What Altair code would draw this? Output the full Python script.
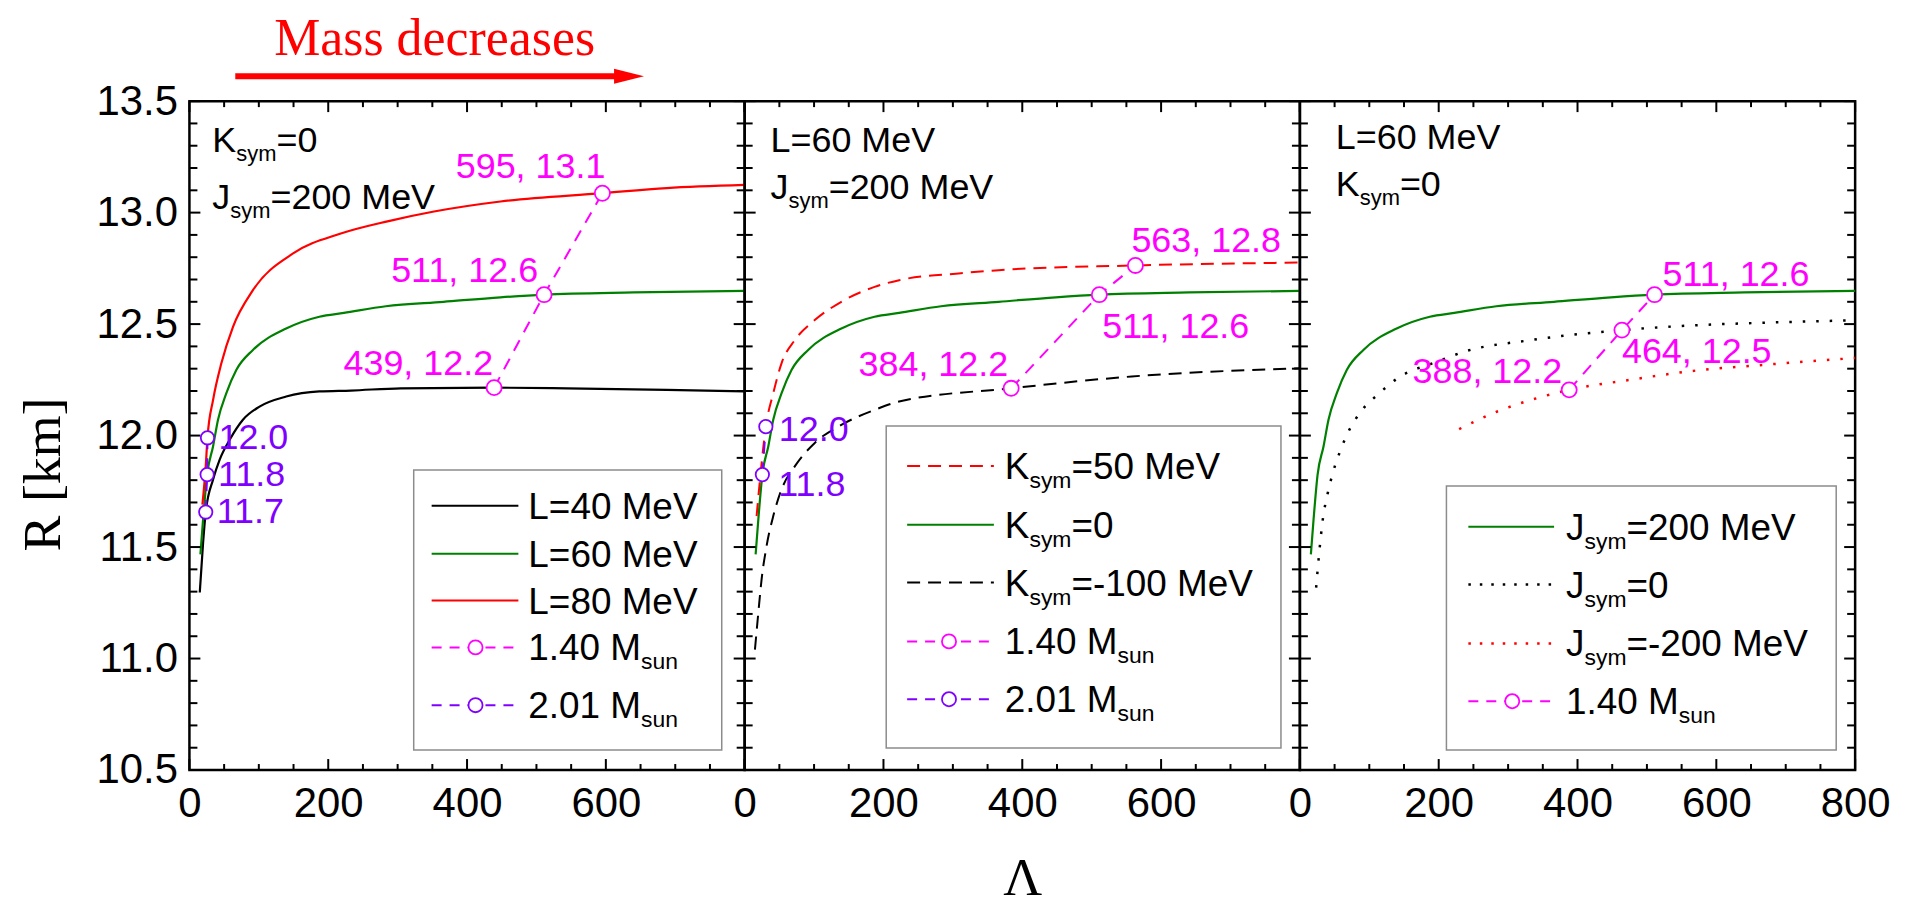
import altair as alt
import pandas as pd

# ---------------- data (Lambda, R[km]) ----------------
# Panel 1 : K_sym = 0, J_sym = 200 MeV, varying L
L40_lam = [14.9, 19.7, 23.5, 34.1, 43.6, 58.0, 77.1, 101.0, 139.4, 187.2, 232.6, 304.6, 439.0, 543.6, 687.6, 800.0]
L40_r = [11.296, 11.52, 11.657, 11.803, 11.892, 11.981, 12.071, 12.13, 12.175, 12.198, 12.202, 12.212, 12.215, 12.212, 12.205, 12.198]
L60_lam = [15.8, 19.7, 25.5, 34.1, 41.2, 53.2, 67.5, 91.5, 139.4, 187.2, 222.6, 283.0, 366.0, 448.2, 511.0, 640.0, 800.0]
L60_r = [11.467, 11.624, 11.825, 11.952, 12.071, 12.19, 12.294, 12.384, 12.48, 12.533, 12.55, 12.58, 12.60, 12.62, 12.632, 12.642, 12.649]
L80_lam = [18.7, 23.5, 26.0, 34.1, 46.0, 62.8, 91.5, 150.0, 217.0, 287.0, 352.4, 448.2, 595.0, 687.6, 800.0]
L80_r = [11.69, 11.862, 11.99, 12.16, 12.324, 12.488, 12.652, 12.818, 12.905, 12.962, 13.005, 13.05, 13.087, 13.11, 13.124]

# Panel 2 : L = 60 MeV, J_sym = 200 MeV, varying K_sym
K50_lam = [17.2, 22.0, 30.5, 41.2, 53.1, 72.2, 101.0, 139.3, 187.2, 222.6, 311.7, 366.0, 563.0, 800.0]
K50_r = [11.639, 11.80, 12.04, 12.19, 12.324, 12.428, 12.518, 12.60, 12.667, 12.697, 12.728, 12.742, 12.763, 12.776]
Km100_lam = [14.8, 19.7, 24.4, 31.6, 41.2, 53.1, 72.2, 101.0, 139.3, 187.2, 222.6, 384.0, 557.7, 800.0]
Km100_r = [11.04, 11.206, 11.355, 11.505, 11.639, 11.758, 11.862, 11.967, 12.048, 12.115, 12.153, 12.212, 12.265, 12.302]

# Panel 3 : L = 60 MeV, K_sym = 0, varying J_sym
J0_lam = [23.4, 28.3, 33.0, 40.2, 47.4, 57.0, 68.9, 88.0, 114.5, 140.8, 198.2, 236.6, 332.2, 464.0, 571.7, 667.4, 800.0]
J0_r = [11.318, 11.49, 11.624, 11.743, 11.832, 11.922, 12.011, 12.108, 12.19, 12.257, 12.332, 12.376, 12.428, 12.473, 12.495, 12.506, 12.517]
Jm200_lam = [229.4, 284.4, 341.8, 388.0, 475.8, 571.7, 667.4, 800.0]
Jm200_r = [12.029, 12.108, 12.168, 12.205, 12.25, 12.292, 12.317, 12.348]

# 1.40 M_sun points
P1_14_lam = [439, 511, 595]
P1_14_r = [12.215, 12.632, 13.087]
P1_14_lab = ["439, 12.2", "511, 12.6", "595, 13.1"]
P2_14_lam = [384, 511, 563]
P2_14_r = [12.212, 12.632, 12.763]
P2_14_lab = ["384, 12.2", "511, 12.6", "563, 12.8"]
P3_14_lam = [388, 464, 511]
P3_14_r = [12.205, 12.473, 12.632]
P3_14_lab = ["388, 12.2", "464, 12.5", "511, 12.6"]

# 2.01 M_sun points
P1_201_lam = [26.0, 25.5, 23.5]
P1_201_r = [11.99, 11.825, 11.657]
P1_201_lab = ["12.0", "11.8", "11.7"]
P2_201_lam = [30.5, 25.5]
P2_201_r = [12.04, 11.825]
P2_201_lab = ["12.0", "11.8"]

# axis ticks
X_LABELS_12 = [0, 200, 400, 600]
X_LABELS_3 = [0, 200, 400, 600, 800]
Y_LABELS = [10.5, 11.0, 11.5, 12.0, 12.5, 13.0, 13.5]
X_MAJOR = [0, 200, 400, 600, 800]
X_MINOR = [v for v in range(50, 800, 50) if v % 200 != 0]
Y_MAJOR = Y_LABELS
Y_MINOR = [round(10.5 + 0.1 * i, 1) for i in range(1, 30) if i % 5 != 0]

# ---------------- styling ----------------
W, H = 557, 671
LAM_DOMAIN = [0, 800]
R_DOMAIN = [10.5, 13.5]
SANS = "Liberation Sans"
SERIF = "Liberation Serif"
RED = "#ff0000"
GREEN = "#008000"
BLACK = "#000000"
MAGENTA = "#ff00ff"
PURPLE = "#8000ff"

ARIAL = {' ': 278, '-': 333, '.': 278, ',': 278, '=': 584, 'J': 500, 'K': 667, 'L': 556,
         'M': 833, 'V': 667, 'e': 556, 'm': 833, 'n': 556, 's': 500, 'u': 556, 'y': 500}

AX = {"x": None, "y": None}   # axes of the panel currently being built


def tw(s, size):
    return sum(ARIAL.get(c, 556) for c in s) * size / 1000.0


def xenc(field):
    return alt.X(f"{field}:Q", scale=alt.Scale(domain=LAM_DOMAIN, nice=False, zero=False), axis=AX["x"])


def yenc(field):
    return alt.Y(f"{field}:Q", scale=alt.Scale(domain=R_DOMAIN, nice=False, zero=False), axis=AX["y"])


ONE = pd.DataFrame({"a": [0]})


def curve(lam, r, color, dash=None, width=2.2):
    df = pd.DataFrame({"lam": lam, "r": r})
    kw = dict(color=color, strokeWidth=width, interpolate="monotone")
    if dash:
        kw["strokeDash"] = dash
    return alt.Chart(df).mark_line(**kw).encode(x=xenc("lam"), y=yenc("r"))


def tick_layers():
    layers = []
    for vals, ln in ((X_MAJOR, 11), (X_MINOR, 6)):
        base = alt.Chart(pd.DataFrame({"lam": vals})).mark_rule(color="black", strokeWidth=2)
        layers.append(base.encode(x=xenc("lam"), y=alt.value(H), y2=alt.value(H - ln)))
        layers.append(base.encode(x=xenc("lam"), y=alt.value(0), y2=alt.value(ln)))
    for vals, ln in ((Y_MAJOR, 11), (Y_MINOR, 8)):
        base = alt.Chart(pd.DataFrame({"r": vals})).mark_rule(color="black", strokeWidth=2)
        layers.append(base.encode(y=yenc("r"), x=alt.value(0), x2=alt.value(ln)))
        layers.append(base.encode(y=yenc("r"), x=alt.value(W - ln), x2=alt.value(W)))
    return layers


def mass_points(lam, r, labels, color, size, offsets, fsize=36):
    df = pd.DataFrame({"lam": lam, "r": r, "t": labels})
    layers = [
        alt.Chart(df).mark_line(color=color, strokeDash=[12, 9], strokeWidth=2)
        .encode(x=xenc("lam"), y=yenc("r"), order="r:Q"),
        alt.Chart(df).mark_circle(fill="white", stroke=color, fillOpacity=1, strokeOpacity=1,
                                  strokeWidth=1.8, size=size)
        .encode(x=xenc("lam"), y=yenc("r")),
    ]
    for i, (align, dx, dy, base) in enumerate(offsets):
        layers.append(
            alt.Chart(df.iloc[[i]]).mark_text(align=align, baseline=base, dx=dx, dy=dy, font=SANS,
                                              fontSize=fsize, color=color)
            .encode(x=xenc("lam"), y=yenc("r"), text="t:N")
        )
    return layers


def rich(parts, x, y, size=36, subsize=22, color="black", subdy=9):
    layers = []
    cx = x
    for txt, kind in parts:
        fs = size if kind == "n" else subsize
        yy = y if kind == "n" else y + subdy
        layers.append(
            alt.Chart(pd.DataFrame({"t": [txt]}))
            .mark_text(align="left", baseline="alphabetic", font=SANS, fontSize=fs, color=color)
            .encode(x=alt.value(cx), y=alt.value(yy), text="t:N")
        )
        cx += tw(txt, fs)
    return layers


def legend(box, rows, sx, cxc, tx, items):
    x1, y1, x2, y2 = box
    layers = [alt.Chart(ONE).mark_rect(fill="white", stroke="#8c8c8c", strokeWidth=1.5)
              .encode(x=alt.value(x1), x2=alt.value(x2), y=alt.value(y1), y2=alt.value(y2))]
    for row, (parts, color, dash, circ, lw) in zip(rows, items):
        kw = dict(color=color, strokeWidth=lw)
        if dash:
            kw["strokeDash"] = dash
        layers.append(alt.Chart(ONE).mark_rule(**kw)
                      .encode(x=alt.value(sx[0]), x2=alt.value(sx[1]), y=alt.value(row)))
        if circ:
            layers.append(alt.Chart(ONE).mark_circle(fill="white", stroke=color, fillOpacity=1,
                                                     strokeWidth=1.8, size=200)
                          .encode(x=alt.value(cxc), y=alt.value(row)))
        layers += rich(parts, tx, row + 13, size=37, subsize=23)
    return layers


def xaxis(values, title=None):
    kw = dict(values=values, labelFontSize=42, labelFont=SANS, labelColor="black", ticks=False,
              domain=False, grid=False, labelPadding=14, labelFlush=False, labelOverlap=False,
              labelBound=False, title=title)
    if title:
        kw.update(titleFont=SERIF, titleFontSize=54, titleFontWeight="normal", titleColor="black",
                  titlePadding=27)
    return alt.Axis(**kw)


yaxis1 = alt.Axis(values=Y_LABELS, format=".1f", labelFontSize=42, labelFont=SANS, labelColor="black",
                  ticks=False, domain=False, grid=False, labelPadding=12, labelOverlap=False,
                  labelFlush=False, title="R [km]", titleFont=SERIF, titleFontSize=54,
                  titleFontWeight="normal", titleColor="black", titleX=-130, titleY=374,
                  titleAngle=270, titleBaseline="alphabetic", titleAlign="center")

# ---------------- panel 1 ----------------
AX["x"], AX["y"] = xaxis(X_LABELS_12), yaxis1
p1_layers = [
    curve(L40_lam, L40_r, BLACK),
    curve(L60_lam, L60_r, GREEN),
    curve(L80_lam, L80_r, RED),
]
p1_layers += tick_layers()
p1_layers += mass_points(P1_14_lam, P1_14_r, P1_14_lab, MAGENTA, 230,
                         [("right", -1, -13, "alphabetic"), ("right", -6, -13, "alphabetic"),
                          ("right", 3, -15, "alphabetic")])
p1_layers += mass_points(P1_201_lam, P1_201_r, P1_201_lab, PURPLE, 180,
                         [("left", 11, 0, "middle"), ("left", 11, 0, "middle"), ("left", 11, 0, "middle")])
p1_layers += rich([("K", "n"), ("sym", "s"), ("=0", "n")], 23, 51)
p1_layers += rich([("J", "n"), ("sym", "s"), ("=200 MeV", "n")], 23, 108)
p1_layers += legend((225, 370, 534, 651), [406, 454, 501, 548, 606], (243, 330), 287, 340, [
    ([("L=40 MeV", "n")], BLACK, None, False, 2),
    ([("L=60 MeV", "n")], GREEN, None, False, 2),
    ([("L=80 MeV", "n")], RED, None, False, 2),
    ([("1.40 M", "n"), ("sun", "s")], MAGENTA, [10, 8], True, 2),
    ([("2.01 M", "n"), ("sun", "s")], PURPLE, [10, 8], True, 2),
])
# headline with arrow
p1_layers.append(alt.Chart(pd.DataFrame({"t": ["Mass decreases"]}))
                 .mark_text(align="center", baseline="alphabetic", font=SERIF, fontSize=52, color=RED)
                 .encode(x=alt.value(246), y=alt.value(-46), text="t:N"))
p1_layers.append(alt.Chart(ONE).mark_rule(color=RED, strokeWidth=6)
                 .encode(x=alt.value(46), x2=alt.value(432), y=alt.value(-25)))
p1_layers.append(alt.Chart(ONE).mark_point(shape="M -1 -0.5 L 1 0 L -1 0.5 Z", filled=True, color=RED,
                                           opacity=1, size=900, strokeWidth=0)
                 .encode(x=alt.value(441), y=alt.value(-25)))
panel1 = alt.layer(*p1_layers).properties(width=W, height=H)

# ---------------- panel 2 ----------------
AX["x"], AX["y"] = xaxis(X_LABELS_12, "Λ"), None
p2_layers = [
    curve(L60_lam, L60_r, GREEN),
    curve(K50_lam, K50_r, RED, dash=[13, 8], width=2),
    curve(Km100_lam, Km100_r, BLACK, dash=[13, 8], width=2),
]
p2_layers += tick_layers()
p2_layers += mass_points(P2_14_lam, P2_14_r, P2_14_lab, MAGENTA, 230,
                         [("right", -3, -12, "alphabetic"), ("left", 3, 43, "alphabetic"),
                          ("left", -4, -13, "alphabetic")])
p2_layers += mass_points(P2_201_lam, P2_201_r, P2_201_lab, PURPLE, 180,
                         [("left", 13, 3, "middle"), ("left", 16, 10, "middle")])
p2_layers += rich([("L=60 MeV", "n")], 26, 51)
p2_layers += rich([("J", "n"), ("sym", "s"), ("=200 MeV", "n")], 26, 98)
p2_layers += legend((142, 326, 538, 649), [366, 425, 483, 542, 600], (163, 250), 205, 261, [
    ([("K", "n"), ("sym", "s"), ("=50 MeV", "n")], RED, [13, 8], False, 2),
    ([("K", "n"), ("sym", "s"), ("=0", "n")], GREEN, None, False, 2),
    ([("K", "n"), ("sym", "s"), ("=-100 MeV", "n")], BLACK, [13, 8], False, 2),
    ([("1.40 M", "n"), ("sun", "s")], MAGENTA, [10, 8], True, 2),
    ([("2.01 M", "n"), ("sun", "s")], PURPLE, [10, 8], True, 2),
])
panel2 = alt.layer(*p2_layers).properties(width=W, height=H)

# ---------------- panel 3 ----------------
AX["x"], AX["y"] = xaxis(X_LABELS_3), None
p3_layers = [
    curve(L60_lam, L60_r, GREEN),
    curve(J0_lam, J0_r, BLACK, dash=[2.5, 11], width=2.5),
    curve(Jm200_lam, Jm200_r, RED, dash=[2.5, 11], width=2.5),
]
p3_layers += tick_layers()
p3_layers += mass_points(P3_14_lam, P3_14_r, P3_14_lab, MAGENTA, 230,
                         [("right", -7, -7, "alphabetic"), ("left", 0, 33, "alphabetic"),
                          ("left", 8, -9, "alphabetic")])
p3_layers += rich([("L=60 MeV", "n")], 36, 48)
p3_layers += rich([("K", "n"), ("sym", "s"), ("=0", "n")], 36, 95)
p3_layers += legend((147, 386, 538, 651), [427, 485, 544, 602], (169, 255), 213, 267, [
    ([("J", "n"), ("sym", "s"), ("=200 MeV", "n")], GREEN, None, False, 2),
    ([("J", "n"), ("sym", "s"), ("=0", "n")], BLACK, [2.5, 9], False, 2.5),
    ([("J", "n"), ("sym", "s"), ("=-200 MeV", "n")], RED, [2.5, 9], False, 2.5),
    ([("1.40 M", "n"), ("sun", "s")], MAGENTA, [10, 8], True, 2),
])
panel3 = alt.layer(*p3_layers).properties(width=W, height=H)

chart = (
    alt.hconcat(panel1, panel2, panel3, spacing=0, bounds="flush")
    .properties(padding={"left": 7, "top": 2, "right": 5, "bottom": 0}, background="white")
    .configure_view(stroke="black", strokeWidth=2.5)
)

chart.save("out.html", embed_options={"renderer": "svg", "actions": False})
